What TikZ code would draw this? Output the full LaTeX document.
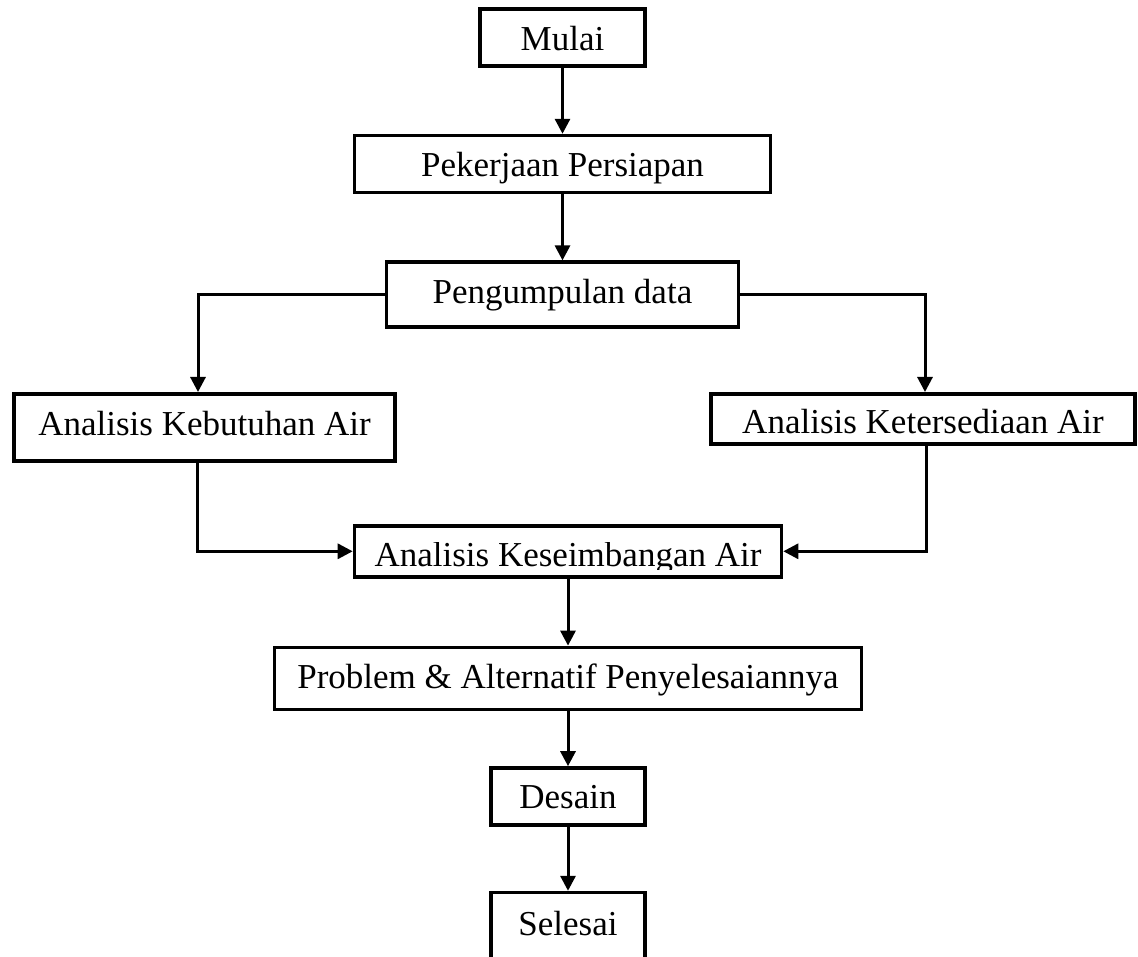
\documentclass[tikz,border=0pt]{standalone}
\usepackage{fontspec}
\setmainfont{Liberation Serif}
\usepackage{trimclip}
\usepackage{tikz}
\usetikzlibrary{arrows.meta, positioning}

\begin{document}
\begin{tikzpicture}[
  x=1pt, y=-1pt,
  node distance=66pt,
  box/.style={draw=black, line width=3.6pt, fill=white, align=center,
              font=\fontsize{35}{42}\selectfont, inner sep=0pt,
              text height=25pt, text depth=0pt},
  arr/.style={-{Triangle[length=15pt, width=15pt]}, line width=3pt, black}
]
\useasboundingbox (0,0) rectangle (1138,957);
\node[box, minimum width=165pt, minimum height=57pt, text height=27pt] at (562.5,37.5) (mulai) {Mulai};
\node[box, minimum width=416pt, minimum height=57pt, below=of mulai]  (persiapan) {Pekerjaan Persiapan};
\node[box, minimum width=352pt, minimum height=65pt, below=of persiapan, text height=17pt] (pengumpulan) {Pengumpulan data};
\node[box, minimum width=381pt, minimum height=67pt, text height=17pt,
      below=63pt of pengumpulan, xshift=-358pt] (kebutuhan) {Analisis Kebutuhan Air};
\node[box, minimum width=424pt, minimum height=50pt, text height=30pt,
      below=63pt of pengumpulan, xshift=360.5pt] (ketersediaan) {Analisis Ketersediaan Air};
\node[box, minimum width=427pt, minimum height=51pt, text height=31pt,
      below=195pt of pengumpulan, xshift=5.5pt] (keseimbangan)
      {\clipbox{0pt 0.13em 0pt 0pt}{Analisis Keseimbangan Air}};
\node[box, minimum width=587pt, minimum height=62pt, text height=20pt,
      below=67pt of keseimbangan] (problem) {Problem \& Alternatif Penyelesaiannya};
\node[box, minimum width=154pt, minimum height=57pt, text height=23pt, below=55pt of problem] (desain) {Desain};
\node[box, minimum width=154pt, minimum height=66pt, text height=20pt, below=64pt of desain] (selesai) {Selesai};
\draw[arr] (mulai) -- (persiapan);
\draw[arr] (persiapan) -- (pengumpulan);
\draw[arr] (pengumpulan.west) -| ([xshift=-6.5pt]kebutuhan.north);
\draw[arr] (pengumpulan.east) -| ([xshift=2pt]ketersediaan.north);
\draw[arr] ([xshift=-7pt]kebutuhan.south) |- (keseimbangan.west);
\draw[arr] ([xshift=3pt]ketersediaan.south) |- (keseimbangan.east);
\draw[arr] (keseimbangan) -- (problem);
\draw[arr] (problem) -- (desain);
\draw[arr] (desain) -- (selesai);
\end{tikzpicture}
\end{document}
